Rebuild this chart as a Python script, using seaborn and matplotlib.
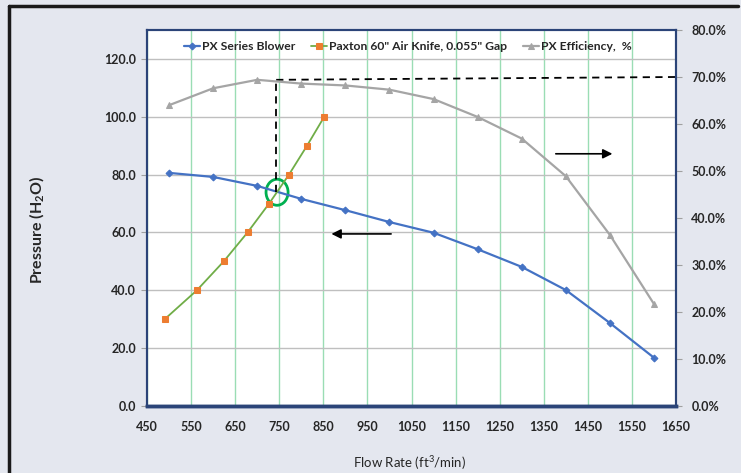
import numpy as np
import pandas as pd
import seaborn as sns
import matplotlib.pyplot as plt
import matplotlib.patches as mpatches
from matplotlib.lines import Line2D
from matplotlib.ticker import FuncFormatter

## data
blower_flow = [500, 600, 700, 800, 900, 1000, 1100, 1200, 1300, 1400, 1500, 1600]
blower_pressure = [80.6, 79.2, 76.1, 71.6, 67.7, 63.6, 59.9, 54.2, 48.1, 40.1, 28.7, 16.7]

knife_flow = [490, 563, 624, 678, 727, 772, 813, 852]
knife_pressure = [30, 40, 50, 60, 70, 80, 90, 100]

eff_flow = [500, 600, 700, 800, 900, 1000, 1100, 1200, 1300, 1400, 1500, 1600]
eff_pct = [0.640, 0.676, 0.694, 0.686, 0.682, 0.673, 0.653, 0.615, 0.569, 0.489, 0.364, 0.217]

op_flow = 743
op_pressure = 74.0
op_eff = 0.694

## settings
sns.set_style('white')
plt.rcParams['font.family'] = ['Lato', 'DejaVu Sans']
plt.rcParams['mathtext.fontset'] = 'custom'
plt.rcParams['mathtext.rm'] = 'Lato'
plt.rcParams['mathtext.bf'] = 'Lato:bold'

bg = '#E4E7EF'
navy = '#2B4478'
blue = '#4472C4'
orange = '#ED7D31'
green = '#70AD47'
grey = '#A5A5A5'

fig = plt.figure(figsize=(7.41, 4.73), dpi=100, facecolor=bg)
ax = fig.add_axes([0.1984, 0.1416, 0.7139, 0.795])
ax.set_facecolor('white')

sns.lineplot(x=blower_flow, y=blower_pressure, ax=ax, color=blue, marker='D',
             markersize=3.5, linewidth=1.6, markeredgecolor=blue, label='PX Series Blower')
sns.lineplot(x=knife_flow, y=knife_pressure, ax=ax, color=green, marker='s',
             markersize=4.5, linewidth=1.3, markerfacecolor=orange, markeredgecolor=orange,
             label='Paxton 60" Air Knife, 0.055" Gap', sort=False)

ax2 = ax.twinx()
sns.lineplot(x=eff_flow, y=eff_pct, ax=ax2, color=grey, marker='^',
             markersize=4.5, linewidth=1.6, markeredgecolor=grey, label='PX Efficiency,  %')

ax.set_xlim(450, 1650)
ax.set_ylim(0, 130)
ax2.set_ylim(0, 0.8)
ax.set_xticks(np.arange(450, 1651, 100))
ax.set_yticks(np.arange(0, 121, 20))
ax2.set_yticks(np.arange(0, 0.81, 0.1))
ax.yaxis.set_major_formatter(FuncFormatter(lambda v, p: f'{v:.1f}'))
ax2.yaxis.set_major_formatter(FuncFormatter(lambda v, p: f'{v*100:.1f}%'))

ax.grid(axis='y', color='#BFBFBF', linewidth=1.0)
ax.grid(axis='x', color='#9ADDB4', linewidth=1.0)
ax.set_axisbelow(True)

for a in (ax, ax2):
    for s in a.spines.values():
        s.set_color(navy)
        s.set_linewidth(1.5)
    a.spines['bottom'].set_linewidth(2.5)
ax.tick_params(axis='both', length=4, color='#A0A0A0', labelsize=9, pad=4)
ax2.tick_params(axis='y', length=4, color='#A0A0A0', labelsize=9, pad=7)
for lab in ax.get_xticklabels() + ax.get_yticklabels() + ax2.get_yticklabels():
    lab.set_fontweight('bold')
ax.tick_params(axis='x', pad=7)

ax.set_xlabel('Flow Rate (ft$^3$/min)', fontsize=9.5)
ax.xaxis.set_label_coords(0.497, -0.152)
ax.xaxis.label.set_va('center')
ax.set_ylabel(r'Pressure (H$_\mathbf{2}$O)', fontsize=11.5, fontweight='bold')
ax.yaxis.set_label_coords(-0.208, 0.468)
ax.yaxis.label.set_va('center')

## operating point annotations
ax.plot([op_flow, op_flow], [op_pressure, op_eff * 130 / 0.8], color='black',
        linestyle=(0, (4, 3)), linewidth=1.3)
ax.plot([op_flow, 1650], [op_eff * 130 / 0.8, 0.70 * 130 / 0.8], color='black',
        linestyle=(0, (4, 3)), linewidth=1.3, clip_on=False)
ax.add_patch(mpatches.Ellipse((op_flow + 2, op_pressure - 0.1), 50, 9, fill=False,
                              edgecolor='#00B050', linewidth=2))
ax.annotate('', xy=(862, 59.5), xytext=(1010, 59.5),
            arrowprops=dict(arrowstyle='-|>', color='black', lw=1.2, mutation_scale=14))
ax.annotate('', xy=(1512, 87.2), xytext=(1371, 87.2),
            arrowprops=dict(arrowstyle='-|>', color='black', lw=1.2, mutation_scale=14))

## legend
h1, l1 = ax.get_legend_handles_labels()
h2, l2 = ax2.get_legend_handles_labels()
ax2.get_legend().remove()
ax.legend(h1 + h2, l1 + l2, loc='center', bbox_to_anchor=(0.493, 0.955), ncol=3,
          frameon=False, prop={'size': 8.7, 'weight': 'bold'}, handlelength=1.3,
          handletextpad=0.2, columnspacing=1.3)

## outer frame
fig.add_artist(Line2D([0.0115, 0.0115], [0, 0.988], transform=fig.transFigure,
                      color='#1A1A1A', linewidth=2.5))
fig.add_artist(Line2D([0.0115, 0.996], [0.988, 0.988], transform=fig.transFigure,
                      color='#1A1A1A', linewidth=2.5))

fig.savefig('out.png', dpi=100, facecolor=bg)
